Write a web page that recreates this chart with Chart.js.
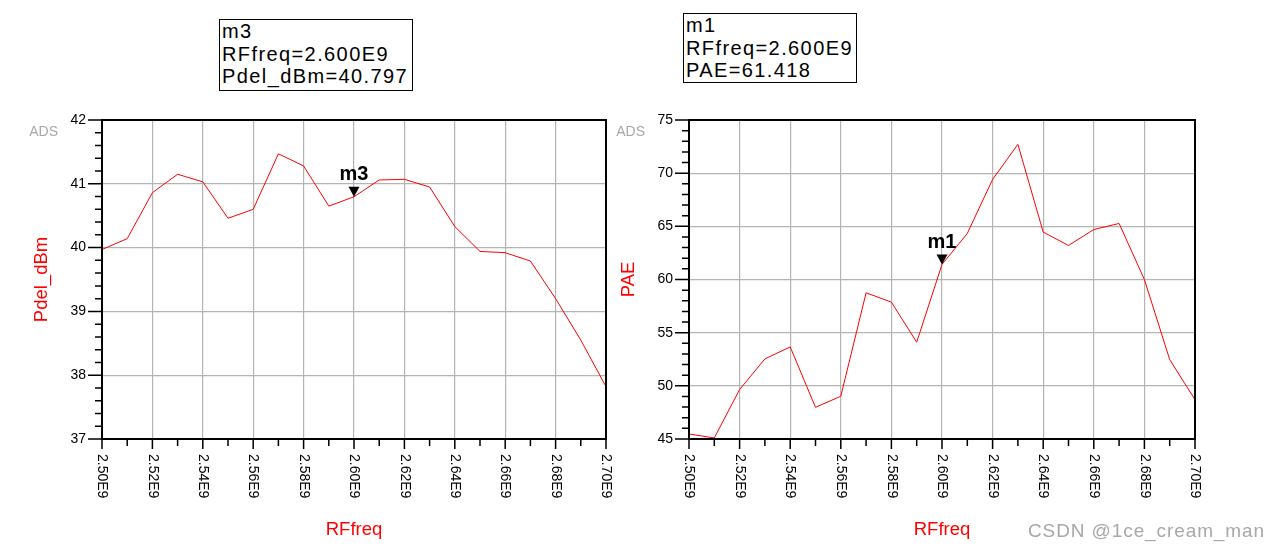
<!DOCTYPE html>
<html>
<head>
<meta charset="utf-8">
<script src="https://cdn.jsdelivr.net/npm/chart.js@4/dist/chart.umd.min.js"></script>
<style>
  body { margin:0; background:#fff; width:1275px; height:553px; overflow:hidden; position:relative; font-family:"Liberation Sans", Arial, sans-serif; }
  canvas { position:absolute; top:0; }
  .mbox { position:absolute; border:1.5px solid #000; font-size:20px; line-height:22.5px; padding:0 2px; letter-spacing:1.4px; background:#fff; white-space:pre; box-sizing:border-box; }
  .wm { position:absolute; right:10px; top:520px; color:#a8a8a8; font-size:19px; letter-spacing:0.9px; }
</style>
</head>
<body>
<canvas id="left" width="620" height="553" style="left:0"></canvas>
<canvas id="right" width="663" height="553" style="left:612px"></canvas>
<div class="mbox" style="left:219px;top:19px;width:194px;height:72px">m3
RFfreq=2.600E9
Pdel_dBm=40.797</div>
<div class="mbox" style="left:683px;top:13px;width:174px;height:70px">m1
RFfreq=2.600E9
PAE=61.418</div>
<div class="wm">CSDN @1ce_cream_man</div>
<script>
// RFfreq in units of 1E9
const rfFreq = [2.50, 2.51, 2.52, 2.53, 2.54, 2.55, 2.56, 2.57, 2.58, 2.59, 2.60,
                2.61, 2.62, 2.63, 2.64, 2.65, 2.66, 2.67, 2.68, 2.69, 2.70];
const pdelDbm = [39.97, 40.14, 40.86, 41.15, 41.03, 40.46, 40.60, 41.47, 41.28, 40.65, 40.797,
                 41.06, 41.07, 40.95, 40.33, 39.94, 39.92, 39.79, 39.20, 38.55, 37.82];
const pae = [45.47, 45.10, 49.65, 52.53, 53.66, 47.98, 49.02, 58.75, 57.87, 54.10, 61.418,
             64.33, 69.41, 72.71, 64.46, 63.20, 64.70, 65.27, 60.00, 52.47, 48.70];

const xMajor = [2.50, 2.52, 2.54, 2.56, 2.58, 2.60, 2.62, 2.64, 2.66, 2.68, 2.70];
const pdelTicks = [37, 38, 39, 40, 41, 42];
const paeTicks = [45, 50, 55, 60, 65, 70, 75];
const markerIdx = 10;

const FONT = '"Liberation Sans", Arial, sans-serif';

function near(a, b) { return Math.abs(a - b) < 1e-6; }
function isMajor(list, v) { return list.some(m => near(m, v)); }

function minorList(major, step) {
  const out = [];
  const lo = major[0], hi = major[major.length - 1];
  const n = Math.round((hi - lo) / step);
  for (let i = 0; i <= n; i++) out.push(Math.round((lo + i * step) * 1000) / 1000);
  return out;
}

const adsDecor = {
  id: 'adsDecor',
  afterDraw(chart, args, o) {
    const {ctx, chartArea: a, scales: {x, y}} = chart;
    ctx.save();
    // tick marks
    ctx.strokeStyle = '#000';
    ctx.lineWidth = 1.5;
    ctx.beginPath();
    x.ticks.forEach(t => {
      const px = x.getPixelForValue(t.value);
      ctx.moveTo(px, a.bottom);
      ctx.lineTo(px, a.bottom + (isMajor(xMajor, t.value) ? 10 : 7));
    });
    y.ticks.forEach(t => {
      const py = y.getPixelForValue(t.value);
      ctx.moveTo(a.left, py);
      ctx.lineTo(a.left - (isMajor(o.yMajor, t.value) ? 14 : 7), py);
    });
    ctx.stroke();
    // frame
    ctx.lineWidth = 2;
    ctx.strokeRect(a.left, a.top, a.right - a.left, a.bottom - a.top);

    // x tick labels, rotated clockwise
    ctx.fillStyle = '#000';
    ctx.font = '14px ' + FONT;
    ctx.textAlign = 'left';
    ctx.textBaseline = 'middle';
    xMajor.forEach(v => {
      const px = x.getPixelForValue(v);
      ctx.save();
      ctx.translate(px, a.bottom + 15);
      ctx.rotate(Math.PI / 2);
      ctx.fillText(v.toFixed(2) + 'E9', 0, 0);
      ctx.restore();
    });

    // axis titles
    ctx.fillStyle = '#ff0000';
    ctx.font = '18.5px ' + FONT;
    ctx.textAlign = 'center';
    ctx.fillText('RFfreq', (a.left + a.right) / 2, 530);
    ctx.save();
    ctx.translate(a.left - 60, (a.top + a.bottom) / 2);
    ctx.rotate(-Math.PI / 2);
    ctx.fillText(o.yTitle, 0, 0);
    ctx.restore();

    // ADS tag
    ctx.fillStyle = '#a8a8a8';
    ctx.font = '14px ' + FONT;
    ctx.textAlign = 'right';
    ctx.fillText('ADS', a.left - 44, a.top + 12);

    // marker
    const mx = x.getPixelForValue(rfFreq[markerIdx]);
    const my = y.getPixelForValue(o.values[markerIdx]);
    ctx.fillStyle = '#000';
    ctx.beginPath();
    ctx.moveTo(mx, my);
    ctx.lineTo(mx - 5.5, my - 10);
    ctx.lineTo(mx + 5.5, my - 10);
    ctx.closePath();
    ctx.fill();
    ctx.font = 'bold 20px ' + FONT;
    ctx.textAlign = 'center';
    ctx.fillText(o.marker, mx, my - 22);
    ctx.restore();
  }
};

function makeChart(id, values, yMajor, yStep, yTitle, marker, yWidth, padRight) {
  const yMin = yMajor[0], yMax = yMajor[yMajor.length - 1];
  return new Chart(document.getElementById(id), {
    type: 'line',
    data: {
      datasets: [{
        data: rfFreq.map((f, i) => ({x: f, y: values[i]})),
        borderColor: '#ff0000',
        borderWidth: 1,
        pointRadius: 0,
        tension: 0,
        fill: false
      }]
    },
    options: {
      responsive: false,
      animation: false,
      layout: { padding: { left: 0, top: 120, right: padRight, bottom: 0 } },
      plugins: {
        legend: { display: false },
        tooltip: { enabled: false },
        adsDecor: { yMajor: yMajor, yTitle: yTitle, marker: marker, values: values }
      },
      scales: {
        x: {
          type: 'linear',
          min: 2.50,
          max: 2.70,
          afterBuildTicks: s => { s.ticks = minorList(xMajor, 0.01).map(v => ({value: v})); },
          afterFit: s => { s.height = 114; },
          ticks: { display: false, autoSkip: false },
          grid: {
            drawTicks: false,
            color: c => isMajor(xMajor, c.tick.value) ? '#b4b4b4' : 'rgba(0,0,0,0)',
            lineWidth: 1.2
          },
          border: { display: false }
        },
        y: {
          min: yMin,
          max: yMax,
          afterBuildTicks: s => { s.ticks = minorList(yMajor, yStep).map(v => ({value: v})); },
          afterFit: s => { s.width = yWidth; },
          ticks: {
            autoSkip: false,
            padding: 16,
            color: '#000',
            font: { size: 14, family: FONT },
            callback: v => isMajor(yMajor, v) ? String(Math.round(v)) : ''
          },
          grid: {
            drawTicks: false,
            color: c => isMajor(yMajor, c.tick.value) ? '#b4b4b4' : 'rgba(0,0,0,0)',
            lineWidth: 1.2
          },
          border: { display: false }
        }
      }
    },
    plugins: [adsDecor]
  });
}

makeChart('left', pdelDbm, pdelTicks, 0.2, 'Pdel_dBm', 'm3', 102, 14);
makeChart('right', pae, paeTicks, 1, 'PAE', 'm1', 77, 80);
</script>
</body>
</html>
